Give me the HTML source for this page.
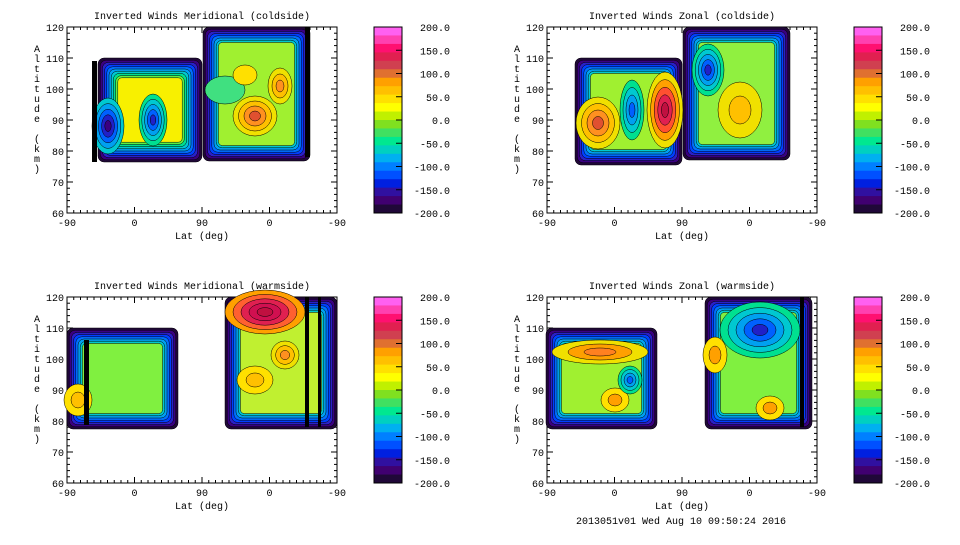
<!DOCTYPE html>
<html><head><meta charset="utf-8"><style>
body{margin:0;background:#fff;width:960px;height:540px;overflow:hidden}
svg text{font-family:"Liberation Mono","DejaVu Sans Mono",monospace;font-size:10px;fill:#000}
</style></head><body>
<svg id="s" width="960" height="540" xmlns="http://www.w3.org/2000/svg"></svg>
<script>
const S=document.getElementById('s');let h='';
const ring=['#200838','#3a0080','#2a20c8','#0040ff','#0070ff','#00a0f0','#00c8d0','#00e090','#60f040'];
function region(x,y,w,hh,base,stop){let n=stop||ring.length;
 for(let i=0;i<n;i++){let d=i*2.2;h+=`<rect x="${x+d}" y="${y+d}" width="${Math.max(w-2*d,2)}" height="${Math.max(hh-2*d,2)}" rx="${6}" fill="${ring[i]}" stroke="#000" stroke-width="0.5"/>`;}
 let d=n*2.2;h+=`<rect x="${x+d}" y="${y+d}" width="${w-2*d}" height="${hh-2*d}" rx="4" fill="${base}" stroke="#000" stroke-width="0.5"/>`;}
function blob(cx,cy,rx,ry,cols){for(let i=0;i<cols.length;i++){let f=1-i/cols.length;h+=`<ellipse cx="${cx}" cy="${cy}" rx="${rx*f}" ry="${ry*f}" fill="${cols[i]}" stroke="#000" stroke-width="0.5"/>`;}}
const toRed=['#f0e000','#ffc000','#ff9020','#e05030','#e02050'];
const toBlue=['#80f040','#00e090','#00c8d0','#00a0f0','#0060ff','#2020c8','#3a0080'];
function bar(x,y,w,hh){h+=`<rect x="${x}" y="${y}" width="${w}" height="${hh}" fill="#000"/>`;}
function axes(ox,oy,title){
 const L=ox+67,R=ox+337,T=oy+27,B=oy+213;
 h+=`<text x="${ox+202}" y="${oy+19}" text-anchor="middle">${title}</text>`;
 h+=`<rect x="${L}" y="${T}" width="270" height="186" fill="none" stroke="#000"/>`;
 for(let a=60;a<=120;a+=10){let y=B-(a-60)*3.1;h+=`<line x1="${L}" x2="${L+6}" y1="${y}" y2="${y}" stroke="#000"/><line x1="${R}" x2="${R-6}" y1="${y}" y2="${y}" stroke="#000"/><text x="${L-3}" y="${y+4}" text-anchor="end">${a}</text>`;
  if(a<120)for(let k=1;k<5;k++){let yy=y-k*3.1*2;h+=`<line x1="${L}" x2="${L+3}" y1="${yy}" y2="${yy}" stroke="#000"/><line x1="${R}" x2="${R-3}" y1="${yy}" y2="${yy}" stroke="#000"/>`;}}
 const lab=['-90','0','90','0','-90'];
 for(let i=0;i<5;i++){let x=L+i*67.5;h+=`<line x1="${x}" x2="${x}" y1="${B}" y2="${B-6}" stroke="#000"/><line x1="${x}" x2="${x}" y1="${T}" y2="${T+6}" stroke="#000"/><text x="${x}" y="${B+13}" text-anchor="middle">${lab[i]}</text>`;}
 for(let x=L;x<=R;x+=6.75){h+=`<line x1="${x}" x2="${x}" y1="${B}" y2="${B-3}" stroke="#000"/><line x1="${x}" x2="${x}" y1="${T}" y2="${T+3}" stroke="#000"/>`;}
 h+=`<text x="${ox+202}" y="${B+26}" text-anchor="middle">Lat (deg)</text>`;
 const yl='Altitude (km)';for(let i=0;i<yl.length;i++)h+=`<text x="${ox+37}" y="${oy+52+i*10}" text-anchor="middle">${yl[i]}</text>`;
 const cb=['#ff60f0','#ff40b0','#ff1070','#e02050','#d04050','#e07030','#ffa000','#ffc000','#ffe000','#ffff00','#c0f000','#80e020','#40e060','#00e890','#00d0c0','#00b0f0','#0080ff','#0050ff','#0020e0','#3010a0','#400070','#200838'];
 const hgt=186/cb.length;
 cb.forEach((c,i)=>h+=`<rect x="${ox+374}" y="${T+i*hgt}" width="28" height="${hgt+0.5}" fill="${c}"/>`);
 h+=`<rect x="${ox+374}" y="${T}" width="28" height="186" fill="none" stroke="#000"/>`;
 ['200.0','150.0','100.0','50.0','0.0','-50.0','-100.0','-150.0','-200.0'].forEach((t,i)=>{let y=T+i*186/8;h+=`<line x1="${ox+396}" x2="${ox+402}" y1="${y}" y2="${y}" stroke="#000"/><text x="${ox+450}" y="${y+4}" text-anchor="end">${t}</text>`;});
}
axes(0,0,'Inverted Winds Meridional (coldside)');
region(98,58,104,104,'#f8f000');region(203,27,107,134,'#a0f030',7);
blob(108,126,16,28,toBlue.slice(2));blob(153,120,14,26,toBlue.slice(1,6));
blob(225,90,20,14,['#40e080']);
blob(255,116,22,20,toRed.slice(0,4));blob(280,86,12,18,toRed.slice(0,3));blob(245,75,12,10,['#ffe000']);
bar(92,61,5,101);bar(305,27,5,130);
axes(480,0,'Inverted Winds Zonal (coldside)');
region(575,58,107,107,'#a0f030',7);region(683,27,107,133,'#90f040',7);
blob(598,123,22,26,toRed.slice(0,4));blob(665,110,18,38,['#f0e000','#ffa000','#ff5030','#e02050','#c01040']);blob(632,110,12,30,toBlue.slice(1,5));
blob(708,70,16,26,toBlue.slice(1,6));blob(740,110,22,28,['#f0e000','#ffc000']);
axes(0,270,'Inverted Winds Meridional (warmside)');
region(67,328,111,101,'#80f040',7);region(225,297,112,132,'#c0f030',7);
blob(78,400,14,16,['#ffe000','#ffc000']);bar(84,340,5,85);
blob(265,312,40,22,['#ffa000','#ff6030','#e02050','#d01050','#c01040']);blob(285,355,14,14,toRed.slice(0,3));blob(255,380,18,14,['#ffe000','#ffc000']);
bar(305,297,4,130);bar(318,297,3,130);
axes(480,270,'Inverted Winds Zonal (warmside)');
region(546,328,111,101,'#a0f030',7);region(705,297,107,132,'#80f040',7);
blob(600,352,48,12,['#f0e000','#ffa000','#ff8020']);blob(615,400,14,12,['#ffe000','#ffa000']);blob(630,380,12,14,toBlue.slice(1,5));
blob(760,330,40,28,toBlue.slice(1,6));blob(715,355,12,18,['#ffe000','#ffa000']);blob(770,408,14,12,['#ffe000','#ffa000']);
bar(800,297,4,130);
h+=`<text x="681" y="524" text-anchor="middle">2013051v01 Wed Aug 10 09:50:24 2016</text>`;
S.innerHTML=h;
</script>
</body></html>
